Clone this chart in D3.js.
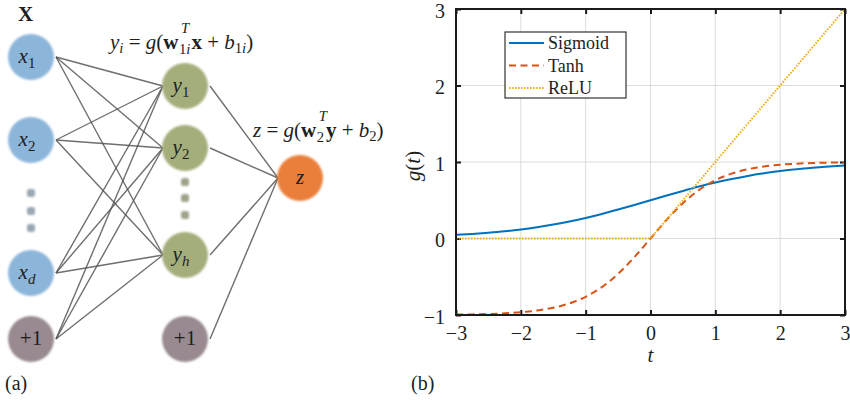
<!DOCTYPE html>
<html>
<head>
<meta charset="utf-8">
<script src="https://cdn.jsdelivr.net/npm/d3@7"></script>
<style>
  html, body { margin: 0; padding: 0; background: #fff; }
  svg { display: block; }
  svg text { font-family: "Liberation Serif", "DejaVu Serif", serif !important; white-space: pre; }
</style>
</head>
<body>
<svg id="fig" width="850" height="402"></svg>
<script>
// ---- activation curves sampled on t ----
const tValues = [-3, -2.75, -2.5, -2.25, -2, -1.75, -1.5, -1.25, -1, -0.75, -0.5, -0.25,
                 0, 0.25, 0.5, 0.75, 1, 1.25, 1.5, 1.75, 2, 2.25, 2.5, 2.75, 3];
const sigmoidValues = [0.047, 0.060, 0.076, 0.095, 0.119, 0.148, 0.182, 0.223, 0.269, 0.321, 0.378, 0.438,
                       0.500, 0.562, 0.622, 0.679, 0.731, 0.777, 0.818, 0.852, 0.881, 0.905, 0.924, 0.940, 0.953];
const tanhValues = [-0.995, -0.992, -0.987, -0.978, -0.964, -0.941, -0.905, -0.848, -0.762, -0.635, -0.462, -0.245,
                    0, 0.245, 0.462, 0.635, 0.762, 0.848, 0.905, 0.941, 0.964, 0.978, 0.987, 0.992, 0.995];
const reluT = [-3, 0, 3];
const reluValues = [0, 0, 3];
const seriesNames = ["Sigmoid", "Tanh", "ReLU"];
const xTicks = [-3, -2, -1, 0, 1, 2, 3];
const yTicks = [-1, 0, 1, 2, 3];

// ---- network diagram nodes ----
const inputNodes = [
  { id: "x1", base: "x", sub: "1", kind: "input" },
  { id: "x2", base: "x", sub: "2", kind: "input" },
  { id: "xd", base: "x", sub: "d", kind: "input" },
  { id: "b1", base: "+1", sub: "", kind: "bias" }
];
const hiddenNodes = [
  { id: "y1", base: "y", sub: "1", kind: "hidden" },
  { id: "y2", base: "y", sub: "2", kind: "hidden" },
  { id: "yh", base: "y", sub: "h", kind: "hidden" },
  { id: "b2", base: "+1", sub: "", kind: "bias" }
];
const outputNodes = [{ id: "z", base: "z", sub: "", kind: "output" }];

// layout of the diagram (pixel rows per layer)
const layerX = { in: 31, hid: 185, out: 300 };
const inputRows = [57, 140, 273, 339];
const hiddenRows = [86, 148, 255, 339];
const outputRows = [178];
const inputDots = [193, 211, 228];
const hiddenDots = [182, 198, 215];
const R = 23;

const fill = { input: "#8cb5da", hidden: "#a4ae7a", output: "#ea7f3a", bias: "#988a90" };
const ink = "#1e1e1e";
const NB = "\u00a0";

const svg = d3.select("#fig");
const defs = svg.append("defs");
defs.append("filter").attr("id", "soft").attr("x", "-20%").attr("y", "-20%")
  .attr("width", "140%").attr("height", "140%")
  .append("feGaussianBlur").attr("stdDeviation", 0.9);
defs.append("filter").attr("id", "softLine")
  .append("feGaussianBlur").attr("stdDeviation", 0.45);

const diag = svg.append("g");

inputNodes.forEach((d, i) => { d.x = layerX.in; d.y = inputRows[i]; });
hiddenNodes.forEach((d, i) => { d.x = layerX.hid; d.y = hiddenRows[i]; });
outputNodes.forEach((d, i) => { d.x = layerX.out; d.y = outputRows[i]; });

// edges: every input (incl. bias) to every non-bias hidden unit, all hidden to output
const edges = [];
inputNodes.forEach(s => hiddenNodes.filter(h => h.kind !== "bias").forEach(t => edges.push([s, t])));
hiddenNodes.forEach(s => outputNodes.forEach(t => edges.push([s, t])));

diag.append("g").attr("filter", "url(#softLine)")
  .selectAll("line").data(edges).join("line")
  .attr("x1", d => d[0].x + R + 2).attr("y1", d => d[0].y)
  .attr("x2", d => d[1].x - R + 1).attr("y2", d => d[1].y)
  .attr("stroke", "#555").attr("stroke-width", 1.4).attr("stroke-opacity", 0.85);

const allNodes = inputNodes.concat(hiddenNodes, outputNodes);
diag.append("g").attr("filter", "url(#soft)")
  .selectAll("circle").data(allNodes).join("circle")
  .attr("cx", d => d.x).attr("cy", d => d.y).attr("r", R)
  .attr("fill", d => fill[d.kind]);

// ellipsis dots between units
const dotsData = inputDots.map(y => ({ x: layerX.in, y, c: "#9aa6b4" }))
  .concat(hiddenDots.map(y => ({ x: layerX.hid, y, c: "#9ea489" })));
diag.append("g").attr("filter", "url(#soft)")
  .selectAll("rect").data(dotsData).join("rect")
  .attr("x", d => d.x - 4).attr("y", d => d.y - 4).attr("width", 8).attr("height", 8).attr("rx", 2.5)
  .attr("fill", d => d.c);

// node labels
const lab = diag.append("g").selectAll("text").data(allNodes).join("text")
  .attr("x", d => d.x - (d.sub ? 4 : 0)).attr("y", d => d.y + 6)
  .attr("text-anchor", "middle").attr("font-size", 21).attr("fill", ink);
lab.append("tspan").attr("font-style", d => d.kind === "bias" ? "normal" : "italic").text(d => d.base);
lab.filter(d => d.sub).append("tspan").attr("font-size", 15).attr("dy", 5)
  .attr("font-style", d => /\d/.test(d.sub) ? "normal" : "italic").text(d => d.sub);

// small math typesetter: segments placed left to right, optional stacked sup/sub
function mathText(g, x0, y0, size, segs) {
  let x = x0;
  const small = size * 0.7;
  segs.forEach(s => {
    if (s.stack) {
      // superscript sits high and a little to the right of its subscript
      x += 0.5;
      const sup = g.append("text").attr("x", x + 2).attr("y", y0 - size * 0.74)
        .attr("font-size", small).attr("font-style", "italic").attr("fill", ink).text(s.stack[0]);
      const sub = g.append("text").attr("x", x).attr("y", y0 + size * 0.22)
        .attr("font-size", small).attr("fill", ink);
      s.stack[1].forEach(p => sub.append("tspan").attr("font-style", p.i ? "italic" : "normal").text(p.t));
      x += Math.max(sup.node().getComputedTextLength(), sub.node().getComputedTextLength()) + 1;
      return;
    }
    const t = g.append("text").attr("x", x).attr("y", y0 + (s.parts ? size * 0.2 : 0))
      .attr("font-size", s.parts ? small : size)
      .attr("font-weight", s.b ? "bold" : "normal")
      .attr("fill", ink);
    if (s.parts) {
      s.parts.forEach(p => t.append("tspan").attr("font-style", p.i ? "italic" : "normal").text(p.t));
    } else {
      t.attr("font-style", s.i ? "italic" : "normal").text(s.t);
    }
    x += t.node().getComputedTextLength();
  });
}

diag.append("text").attr("x", 18).attr("y", 21).attr("font-size", 21).attr("font-weight", "bold")
  .attr("fill", ink).text("X");

mathText(diag.append("g"), 110, 49, 21, [
  { t: "y", i: true },
  { parts: [{ t: "i", i: true }] },
  { t: NB + "=" + NB },
  { t: "g", i: true },
  { t: "(" },
  { t: "w", b: true },
  { stack: ["T", [{ t: "1" }, { t: "i", i: true }]] },
  { t: "x", b: true },
  { t: NB + "+" + NB },
  { t: "b", i: true },
  { parts: [{ t: "1" }, { t: "i", i: true }] },
  { t: ")" }
]);

mathText(diag.append("g"), 253, 137, 21, [
  { t: "z", i: true },
  { t: NB + "=" + NB },
  { t: "g", i: true },
  { t: "(" },
  { t: "w", b: true },
  { stack: ["T", [{ t: "2" }]] },
  { t: "y", b: true },
  { t: NB + "+" + NB },
  { t: "b", i: true },
  { parts: [{ t: "2" }] },
  { t: ")" }
]);

svg.append("text").attr("x", 5).attr("y", 390).attr("font-size", 20).attr("fill", ink).text("(a)");
svg.append("text").attr("x", 411).attr("y", 390).attr("font-size", 20).attr("fill", ink).text("(b)");

// ---- activation function plot ----
const x = d3.scaleLinear().domain([-3, 3]).range([456, 845]);
const y = d3.scaleLinear().domain([-1, 3]).range([315, 9]);
const plot = svg.append("g");

// grid
plot.append("g").selectAll("line").data(xTicks).join("line")
  .attr("x1", d => x(d)).attr("x2", d => x(d)).attr("y1", y(3)).attr("y2", y(-1))
  .attr("stroke", "#dcdcdc").attr("stroke-width", 1);
plot.append("g").selectAll("line").data(yTicks).join("line")
  .attr("y1", d => y(d)).attr("y2", d => y(d)).attr("x1", x(-3)).attr("x2", x(3))
  .attr("stroke", "#dcdcdc").attr("stroke-width", 1);

const fmt = d3.format("");
const tickStyle = g => {
  g.attr("font-family", null).attr("font-size", null);
  g.select(".domain").remove();
  g.selectAll(".tick line").attr("stroke", "#1a1a1a").attr("stroke-width", 2);
  g.selectAll(".tick text").attr("font-size", 20).attr("fill", ink);
};
plot.append("g").attr("transform", `translate(0,${y(-1)})`)
  .call(d3.axisBottom(x).tickValues(xTicks).tickFormat(fmt).tickSizeInner(-5).tickPadding(11))
  .call(tickStyle);
plot.append("g").attr("transform", `translate(${x(-3)},0)`)
  .call(d3.axisLeft(y).tickValues(yTicks).tickFormat(fmt).tickSizeInner(-5).tickPadding(11))
  .call(tickStyle)
  .call(g => g.selectAll(".tick text").attr("dy", "0.42em"));
plot.append("g").attr("transform", `translate(0,${y(3)})`)
  .call(d3.axisTop(x).tickValues(xTicks).tickFormat("").tickSizeInner(-5))
  .call(tickStyle);
plot.append("g").attr("transform", `translate(${x(3)},0)`)
  .call(d3.axisRight(y).tickValues(yTicks).tickFormat("").tickSizeInner(-5))
  .call(tickStyle);

// curves
const line = d3.line().x(d => x(d[0])).y(d => y(d[1])).curve(d3.curveMonotoneX);
const lineLin = d3.line().x(d => x(d[0])).y(d => y(d[1]));
const series = [
  { name: seriesNames[0], pts: d3.zip(tValues, sigmoidValues), color: "#0072bd", dash: null, gen: line },
  { name: seriesNames[1], pts: d3.zip(tValues, tanhValues), color: "#d95319", dash: "7,4.5", gen: line },
  { name: seriesNames[2], pts: d3.zip(reluT, reluValues), color: "#edb120", dash: "1.6,1.4", gen: lineLin }
];
plot.append("g").selectAll("path").data(series).join("path")
  .attr("d", d => d.gen(d.pts)).attr("fill", "none")
  .attr("stroke", d => d.color).attr("stroke-width", 2)
  .attr("stroke-dasharray", d => d.dash);

// frame
plot.append("rect").attr("x", x(-3)).attr("y", y(3))
  .attr("width", x(3) - x(-3)).attr("height", y(-1) - y(3))
  .attr("fill", "none").attr("stroke", "#1a1a1a").attr("stroke-width", 2);

// axis labels
plot.append("text").attr("x", x(0)).attr("y", 362).attr("text-anchor", "middle")
  .attr("font-size", 21).attr("font-style", "italic").attr("fill", ink).text("t");
const yl = plot.append("text").attr("transform", `translate(420,${(y(-1) + y(3)) / 2 + 4}) rotate(-90)`)
  .attr("text-anchor", "middle").attr("font-size", 21).attr("fill", ink);
yl.append("tspan").attr("font-style", "italic").text("g");
yl.append("tspan").text("(");
yl.append("tspan").attr("font-style", "italic").text("t");
yl.append("tspan").text(")");

// legend
const leg = plot.append("g").attr("transform", "translate(505,32)");
leg.append("rect").attr("width", 121).attr("height", 66).attr("fill", "#fff")
  .attr("stroke", "#333").attr("stroke-width", 1.2);
const items = leg.selectAll("g").data(series).join("g")
  .attr("transform", (d, i) => `translate(0,${11 + i * 22.5})`);
items.append("line").attr("x1", 4).attr("x2", 39).attr("y1", 0).attr("y2", 0)
  .attr("stroke", d => d.color).attr("stroke-width", 2).attr("stroke-dasharray", d => d.dash);
items.append("text").attr("x", 43).attr("y", 6).attr("font-size", 18).attr("fill", ink)
  .text(d => d.name);
</script>
</body>
</html>
